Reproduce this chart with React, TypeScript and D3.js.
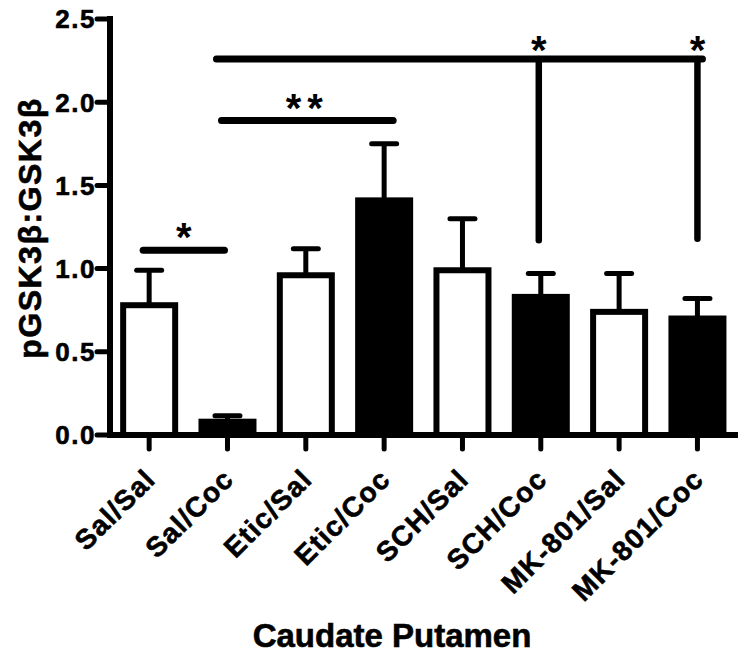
import React from 'react';
import * as d3 from 'd3';

const categories = ['Sal/Sal', 'Sal/Coc', 'Etic/Sal', 'Etic/Coc', 'SCH/Sal', 'SCH/Coc', 'MK-801/Sal', 'MK-801/Coc'];
const means = [0.78, 0.08, 0.96, 1.41, 0.99, 0.83, 0.74, 0.70];
const sems = [0.21, 0.035, 0.16, 0.34, 0.31, 0.14, 0.23, 0.12];
const yTicks = [0, 0.5, 1.0, 1.5, 2.0, 2.5];

// significance brackets (horizontal lines)
const bracketFrom = ['Sal/Sal', 'Sal/Coc', 'Sal/Coc'];
const bracketTo = ['Sal/Coc', 'Etic/Coc', 'MK-801/Coc'];
const bracketLevel = [1.11, 1.89, 2.26];
const bracketLabel = ['*', '**', ''];
// drop lines from the long bracket
const dropCategory = ['SCH/Coc', 'MK-801/Coc'];
const dropBottom = [1.17, 1.18];
const dropLabel = ['*', '*'];

const yTitle = 'pGSK3β:GSK3β';
const xTitle = 'Caudate Putamen';

const FONT = '"Liberation Sans", Arial, Helvetica, sans-serif';

export default function App() {
  const W = 748;
  const H = 656;
  const x = d3.scaleBand<string>().domain(categories).range([110, 736.6]).paddingInner(0.336).paddingOuter(0.168);
  const y = d3.scaleLinear().domain([0, 2.5]).range([435, 19]);
  const bw = x.bandwidth();
  const cx = (c: string) => (x(c) as number) + bw / 2;
  const fmt = d3.format('.1f');
  const bracketOffsets: [number, number][] = [[-6, -3], [-6, 9], [-11, 5]];
  const dropOffsets = [-2, 0];
  const heavy = { stroke: '#000', strokeWidth: 0.6 };

  return (
    <svg width={W} height={H} style={{ position: 'absolute', left: 0, top: 0, background: '#fff' }} fontFamily={FONT}>
      <rect x={0} y={0} width={W} height={H} fill="#fff" />
      {/* bars */}
      {categories.map((c, i) => (
        <rect key={c} x={x(c)} y={y(means[i])} width={bw} height={y(0) - y(means[i])}
          fill={c.endsWith('Coc') ? '#000' : '#fff'} stroke="#000" strokeWidth={6} />
      ))}
      {/* error bars */}
      {categories.map((c, i) => (
        <g key={'e' + c} stroke="#000" strokeWidth={5}>
          <line x1={cx(c)} x2={cx(c)} y1={y(means[i])} y2={y(means[i] + sems[i])} />
          <line x1={cx(c) - 12.5} x2={cx(c) + 12.5} y1={y(means[i] + sems[i])} y2={y(means[i] + sems[i])} strokeLinecap="round" />
        </g>
      ))}
      {/* axes */}
      <line x1={110} x2={110} y1={y(2.5) - 3} y2={y(0) + 3} stroke="#000" strokeWidth={6} />
      <line x1={107} x2={738} y1={y(0)} y2={y(0)} stroke="#000" strokeWidth={6} />
      {yTicks.map(t => (
        <g key={'yt' + t}>
          <line x1={97} x2={110} y1={y(t)} y2={y(t)} stroke="#000" strokeWidth={5} strokeLinecap="round" />
          <text x={96} y={y(t)} dy="0.36em" textAnchor="end" fontSize={26} fontWeight="bold" letterSpacing={1.5} {...heavy}>{fmt(t)}</text>
        </g>
      ))}
      {categories.map(c => (
        <g key={'xt' + c}>
          <line x1={cx(c)} x2={cx(c)} y1={y(0)} y2={y(0) + 14} stroke="#000" strokeWidth={5} strokeLinecap="round" />
          <text transform={`translate(${cx(c) + 8},${y(0) + 46}) rotate(-45)`} textAnchor="end" fontSize={28} fontWeight="bold" letterSpacing={1.2} {...heavy}>{c}</text>
        </g>
      ))}
      {/* axis titles */}
      <text transform={`translate(41,228) rotate(-90)`} textAnchor="middle" fontSize={32} fontWeight="bold" letterSpacing={1.5} {...heavy}>{yTitle}</text>
      <text x={392} y={647} textAnchor="middle" fontSize={33} fontWeight="bold" {...heavy}>{xTitle}</text>
      {/* significance brackets */}
      {bracketFrom.map((f, i) => {
        const x1 = cx(f) + bracketOffsets[i][0];
        const x2 = cx(bracketTo[i]) + bracketOffsets[i][1];
        const yy = y(bracketLevel[i]);
        return (
          <g key={'b' + i}>
            <line x1={x1} x2={x2} y1={yy} y2={yy} stroke="#000" strokeWidth={7} strokeLinecap="round" />
            {bracketLabel[i] && (
              <text x={(x1 + x2) / 2} y={yy + 1} textAnchor="middle" fontSize={40} fontWeight="bold" letterSpacing={bracketLabel[i].length > 1 ? 6 : 0}>{bracketLabel[i]}</text>
            )}
          </g>
        );
      })}
      {dropCategory.map((c, i) => {
        const xx = cx(c) + dropOffsets[i];
        return (
          <g key={'d' + c}>
            <line x1={xx} x2={xx} y1={y(bracketLevel[2])} y2={y(dropBottom[i])} stroke="#000" strokeWidth={6.5} strokeLinecap="round" />
            <text x={xx} y={y(bracketLevel[2]) + 5} textAnchor="middle" fontSize={40} fontWeight="bold">{dropLabel[i]}</text>
          </g>
        );
      })}
    </svg>
  );
}
